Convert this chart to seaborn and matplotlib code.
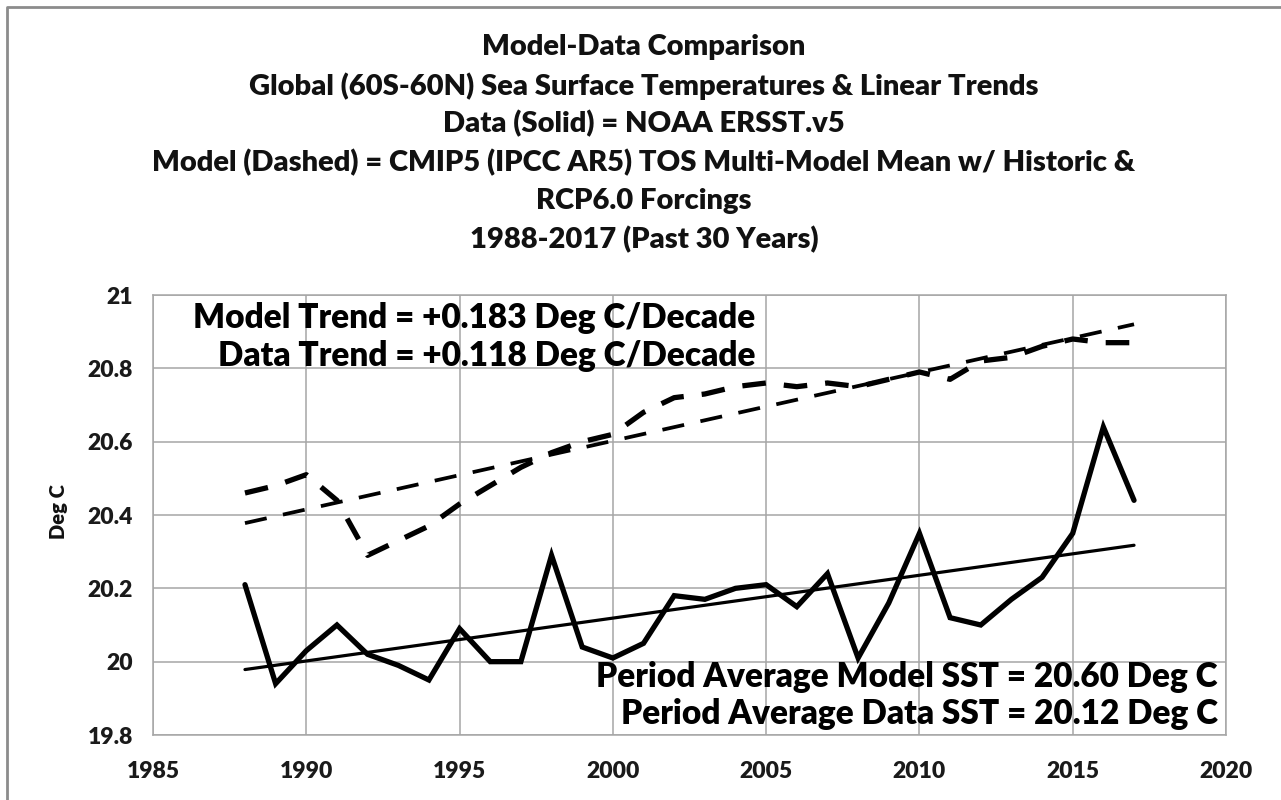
import numpy as np
import pandas as pd
import matplotlib
matplotlib.use("Agg")
import matplotlib.pyplot as plt
import seaborn as sns

# Data #

years = list(range(1988, 2018))
data_sst = [20.21, 19.94, 20.03, 20.10, 20.02, 19.99, 19.95, 20.09, 20.00, 20.00,
            20.29, 20.04, 20.01, 20.05, 20.18, 20.17, 20.20, 20.21, 20.15, 20.24,
            20.01, 20.16, 20.35, 20.12, 20.10, 20.17, 20.23, 20.35, 20.64, 20.44]
model_sst = [20.46, 20.48, 20.51, 20.44, 20.29, 20.33, 20.37, 20.43, 20.48, 20.53,
             20.57, 20.60, 20.62, 20.68, 20.72, 20.73, 20.75, 20.76, 20.75, 20.76,
             20.75, 20.77, 20.79, 20.77, 20.82, 20.83, 20.86, 20.88, 20.87, 20.87]

x_ticks = [1985, 1990, 1995, 2000, 2005, 2010, 2015, 2020]
y_ticks = [19.8, 20.0, 20.2, 20.4, 20.6, 20.8, 21.0]
y_tick_labels = ["19.8", "20", "20.2", "20.4", "20.6", "20.8", "21"]

title_lines = ["Model-Data Comparison",
               "Global (60S-60N) Sea Surface Temperatures & Linear Trends",
               "Data (Solid) = NOAA ERSST.v5",
               "Model (Dashed) = CMIP5 (IPCC AR5) TOS Multi-Model Mean w/ Historic &",
               "RCP6.0 Forcings",
               "1988-2017 (Past 30 Years)"]
trend_text = ["Model Trend = +0.183 Deg C/Decade",
              "Data Trend = +0.118 Deg C/Decade"]
avg_text = ["Period Average Model SST = 20.60 Deg C",
            "Period Average Data SST = 20.12 Deg C"]

df = pd.DataFrame({"Year": years, "Data": data_sst, "Model": model_sst})
df["Data Trend"] = np.polyval(np.polyfit(df["Year"], df["Data"], 1), df["Year"])
df["Model Trend"] = np.polyval(np.polyfit(df["Year"], df["Model"], 1), df["Year"])

# Style #

sns.set_theme(style="white")
plt.rcParams["font.family"] = ["Lato", "DejaVu Sans"]
plt.rcParams["font.weight"] = "bold"
plt.rcParams["lines.scale_dashes"] = False

W, H = 1281, 800
fig = plt.figure(figsize=(W / 100, H / 100), dpi=100)
fig.patch.set_facecolor("white")
ax = fig.add_axes([153 / W, 65 / H, (1226 - 153) / W, (735 - 295) / H])

grid_col = "#a6a6a6"

sns.lineplot(data=df, x="Year", y="Data", color="black", lw=3.8, ax=ax,
             solid_joinstyle="miter")
sns.lineplot(data=df.iloc[[0, -1]], x="Year", y="Data Trend", color="black", lw=2.3, ax=ax)
sns.lineplot(data=df, x="Year", y="Model", color="black", lw=3.8, ax=ax,
             linestyle=(0, (17, 13)))
sns.lineplot(data=df.iloc[[0, -1]], x="Year", y="Model Trend", color="black", lw=2.7, ax=ax,
             linestyle=(0, (16, 12)))

ax.set_xlim(1985, 2020)
ax.set_ylim(19.8, 21.0)
ax.set_xticks(x_ticks)
ax.set_xticklabels([str(t) for t in x_ticks], fontsize=16.5, fontweight="heavy", color="#1a1a1a")
ax.set_yticks(y_ticks)
ax.set_yticklabels(y_tick_labels, fontsize=16.5, fontweight="heavy", color="#1a1a1a")
ax.grid(True, color=grid_col, lw=1.1)
ax.set_axisbelow(True)
for s in ax.spines.values():
    s.set_color(grid_col)
    s.set_linewidth(1.1)
ax.tick_params(axis="both", direction="out", length=7.5, width=1.1, color=grid_col)
ax.tick_params(axis="y", pad=7)
ax.tick_params(axis="x", pad=11)
ax.set_xlabel("")
ax.set_ylabel("")
fig.text(58 / W, 1 - 512 / H, "Deg C", rotation=90, ha="center", va="center",
         fontsize=14.5, fontweight="heavy", color="#111111")

# Titles and annotations #

title_y = [47, 86, 124, 163, 201, 240]
for line, ty in zip(title_lines, title_y):
    fig.text(644 / W, 1 - ty / H, line, ha="center", va="center",
             fontsize=21, fontweight="heavy", color="#111111")

for line, ty in zip(trend_text, [318, 356]):
    fig.text(755 / W, 1 - ty / H, line, ha="right", va="center",
             fontsize=24, fontweight="heavy", color="black")
for line, ty in zip(avg_text, [677, 714]):
    fig.text(1218 / W, 1 - ty / H, line, ha="right", va="center",
             fontsize=24, fontweight="heavy", color="black")

# Outer frame #
fig.add_artist(plt.Line2D([7 / W, 7 / W, 1], [0, 1 - 7 / H, 1 - 7 / H],
                          transform=fig.transFigure, color="#8c8c8c", lw=2))

fig.savefig("out.png", dpi=100, facecolor="white")
